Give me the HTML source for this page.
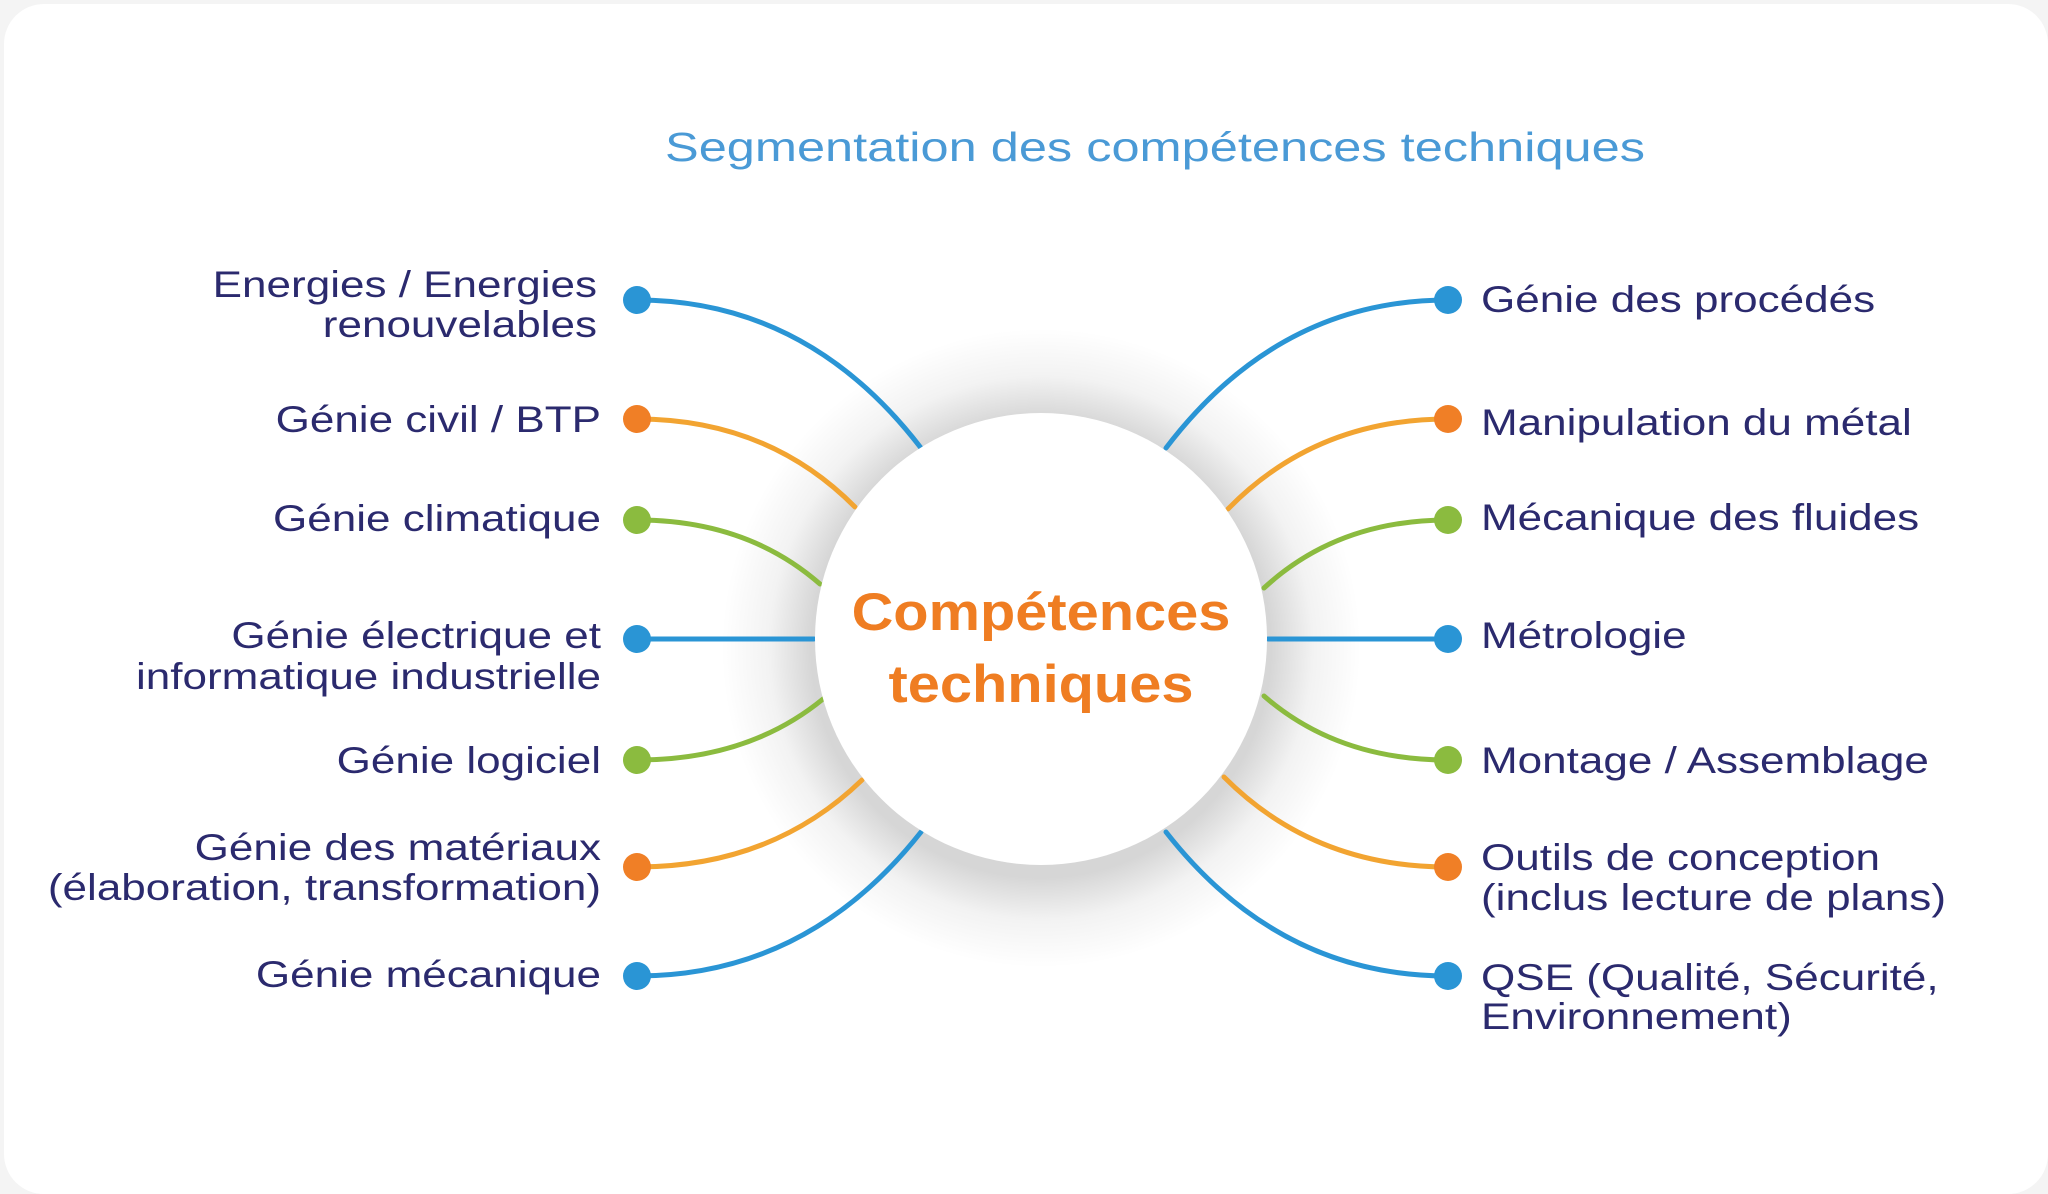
<!DOCTYPE html>
<html><head><meta charset="utf-8">
<style>
html,body{margin:0;padding:0;background:#f4f4f4;}
.card{position:absolute;left:0;top:0;width:2048px;height:1194px;overflow:hidden;}
svg text{font-family:"Liberation Sans",sans-serif;}
</style></head>
<body>
<div class="card">
<svg width="2048" height="1194" viewBox="0 0 2048 1194" xmlns="http://www.w3.org/2000/svg">
<defs>
<radialGradient id="glow" cx="0.5" cy="0.5" r="0.5">
<stop offset="0.72" stop-color="#000" stop-opacity="0.16"/>
<stop offset="0.85" stop-color="#000" stop-opacity="0.05"/>
<stop offset="1" stop-color="#000" stop-opacity="0"/>
</radialGradient>
</defs>
<rect x="0" y="0" width="2048" height="1194" fill="#f4f4f4"/>
<rect x="4" y="4" width="2044" height="1190" rx="40" fill="#ffffff"/>
<text x="1155" y="161" text-anchor="middle" font-size="41" fill="#4a9ad6" textLength="980" lengthAdjust="spacingAndGlyphs">Segmentation des compétences techniques</text>
<circle cx="1041" cy="648" r="320" fill="url(#glow)"/>
<g id="lines" fill="none" stroke-width="5" stroke-linecap="round"></g>
<circle cx="1041" cy="639" r="226" fill="#ffffff"/>
<g id="dots"></g>
<text class="w" data-f="1.09" x="1041" y="630" text-anchor="middle" font-size="53" font-weight="bold" fill="#ef7d22">Compétences</text>
<text class="w" data-f="1.09" x="1041" y="702" text-anchor="middle" font-size="53" font-weight="bold" fill="#ef7d22">techniques</text>
<g font-size="37" fill="#2b2a6e" text-anchor="end">
<text class="w" x="597" y="297">Energies / Energies</text>
<text class="w" x="597" y="337">renouvelables</text>
<text class="w" x="601" y="432">Génie civil / BTP</text>
<text class="w" x="601" y="531">Génie climatique</text>
<text class="w" x="601" y="648">Génie électrique et</text>
<text class="w" x="601" y="689">informatique industrielle</text>
<text class="w" x="601" y="773">Génie logiciel</text>
<text class="w" x="601" y="860">Génie des matériaux</text>
<text class="w" x="601" y="900">(élaboration, transformation)</text>
<text class="w" x="601" y="987">Génie mécanique</text>
</g>
<g font-size="37" fill="#2b2a6e">
<text class="w" x="1481" y="312">Génie des procédés</text>
<text class="w" x="1481" y="435">Manipulation du métal</text>
<text class="w" x="1481" y="530">Mécanique des fluides</text>
<text class="w" x="1481" y="648">Métrologie</text>
<text class="w" x="1481" y="773">Montage / Assemblage</text>
<text class="w" x="1481" y="870">Outils de conception</text>
<text class="w" x="1481" y="910">(inclus lecture de plans)</text>
<text class="w" x="1481" y="990">QSE (Qualité, Sécurité,</text>
<text class="w" x="1481" y="1029">Environnement)</text>
</g>
</svg>
</div>
<script>
(function(){
var NS="http://www.w3.org/2000/svg";
var B="#2a95d5",O="#f2a431",OD="#f07f26",G="#8bbb3f";
var ys=[300,419,520,639,760,867,976];
var cols=[[B,B],[O,OD],[G,G],[B,B],[G,G],[O,OD],[B,B]];
var L=[[921,448],[855,507],[820,584],[814,639],[823,699],[862,780],[921,832]];
var R=[[1166,448],[1228,509],[1264,588],[1268,639],[1264,696],[1224,777],[1166,832]];
var lines=document.getElementById("lines"),dots=document.getElementById("dots");
function add(dx,dy,e,c,dc){
  var p=document.createElementNS(NS,"path");
  var d;
  if(Math.abs(e[1]-dy)<2){d="M"+dx+","+dy+" L"+e[0]+","+e[1];}
  else{
    var qx=dx+0.6*(e[0]-dx);
    d="M"+dx+","+dy+" Q"+qx+","+dy+" "+e[0]+","+e[1];
  }
  p.setAttribute("d",d);p.setAttribute("stroke",c);lines.appendChild(p);
  var ci=document.createElementNS(NS,"circle");
  ci.setAttribute("cx",dx);ci.setAttribute("cy",dy);ci.setAttribute("r",14);ci.setAttribute("fill",dc);
  dots.appendChild(ci);
}
for(var i=0;i<7;i++){add(637,ys[i],L[i],cols[i][0],cols[i][1]);add(1448,ys[i],R[i],cols[i][0],cols[i][1]);}
var ts=document.querySelectorAll("text.w");
for(var j=0;j<ts.length;j++){
  var f=parseFloat(ts[j].getAttribute("data-f")||"1.19");
  var w=ts[j].getComputedTextLength();
  ts[j].setAttribute("textLength",(w*f).toFixed(1));
  ts[j].setAttribute("lengthAdjust","spacingAndGlyphs");
}
})();
</script>
</body></html>
